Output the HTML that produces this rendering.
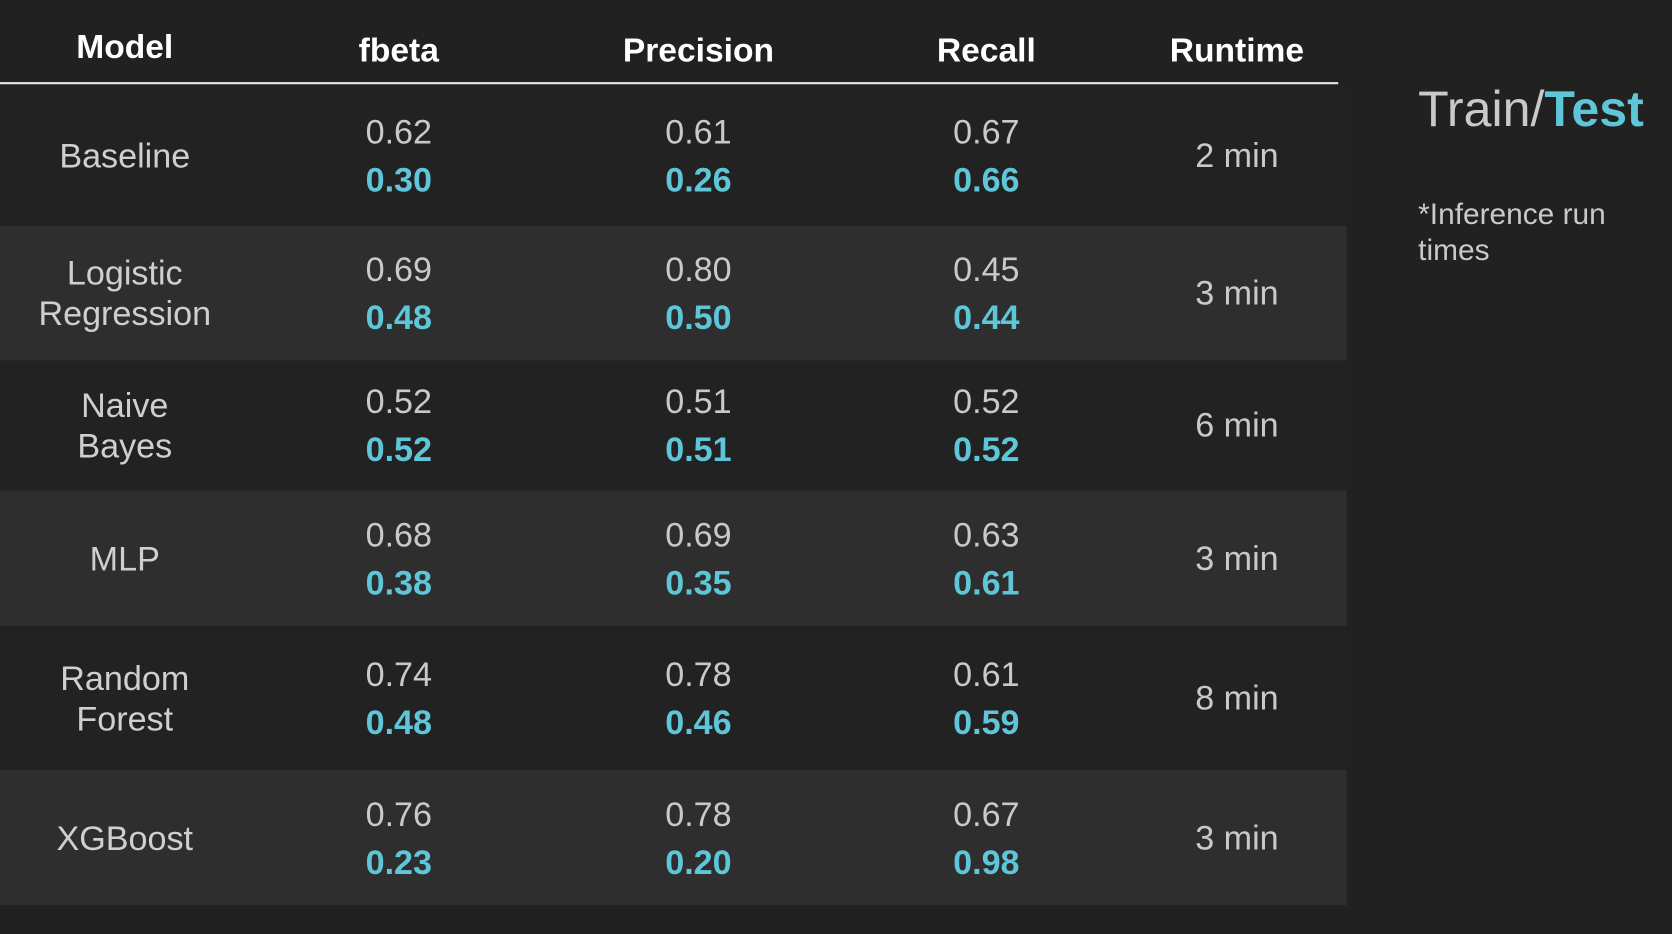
<!DOCTYPE html>
<html><head><meta charset="utf-8">
<style>
html,body{margin:0;padding:0;background:#212121;width:1672px;height:934px;overflow:hidden}
#wrap{position:absolute;left:0;top:0;width:1568px;height:876px;transform:scale(1.0663);transform-origin:0 0;font-family:"Liberation Sans",Arial,sans-serif}
.t{position:absolute;white-space:nowrap;transform:translate(-50%,-50%)}
.h{color:#fff;font-weight:bold;font-size:31.5px}
.tr{color:#c9c9c9;font-size:32px}
.te{color:#5ec6d8;font-size:32px;font-weight:bold}
.m{color:#cfcfcf;font-size:32px;text-align:center;line-height:38px}
.row{position:absolute;left:0;width:1263px}
</style></head><body>
<div id="wrap">
<div style="position:absolute;left:0;top:77px;width:1255px;height:2px;background:#e8e8e8"></div>
<div style="position:absolute;left:1330px;top:74px;font-size:47px;color:#c9c9c9">Train/<span style="color:#5ec6d8;font-weight:bold">Test</span></div>
<div style="position:absolute;left:1330px;top:184px;font-size:28px;color:#c9c9c9;line-height:34px">*Inference run<br>times</div>
</div>
<script>
const headers=["Model","fbeta","Precision","Recall","Runtime"];
const models=["Baseline","Logistic<br>Regression","Naive<br>Bayes","MLP","Random<br>Forest","XGBoost"];
const fbetaTrain=["0.62","0.69","0.52","0.68","0.74","0.76"];
const fbetaTest=["0.30","0.48","0.52","0.38","0.48","0.23"];
const precTrain=["0.61","0.80","0.51","0.69","0.78","0.78"];
const precTest=["0.26","0.50","0.51","0.35","0.46","0.20"];
const recTrain=["0.67","0.45","0.52","0.63","0.61","0.67"];
const recTest=["0.66","0.44","0.52","0.61","0.59","0.98"];
const runtimes=["2 min","3 min","6 min","3 min","8 min","3 min"];
const W=document.getElementById('wrap');
const colX=[117,374,655,925,1160];
const rowTop=[79,212,338,460,587,722,849];
function mk(cls,x,y,html){const d=document.createElement('div');d.className='t '+cls;d.style.left=x+'px';d.style.top=y+'px';d.innerHTML=html;W.appendChild(d);return d;}
headers.forEach((h,i)=>{const d=mk('h',colX[i],i==0?44:47,h);

});
models.forEach((m,r)=>{
 const top=rowTop[r],bot=rowTop[r+1],mid=(top+bot)/2;
 const bg=document.createElement('div');bg.className='row';bg.style.top=top+'px';bg.style.height=(bot-top)+'px';
 bg.style.background=r%2?'#2e2e2e':'#222222';W.insertBefore(bg,W.firstChild);
 
 
 let d=mk('m',colX[0],mid,m);
 
 
 const pairs=[[fbetaTrain,fbetaTest],[precTrain,precTest],[recTrain,recTest]];
 pairs.forEach((p,c)=>{
  let a=mk('tr',colX[c+1],mid-22,p[0][r]);
  
  
  let b=mk('te',colX[c+1],mid+23,p[1][r]);
  
  
 });
 d=mk('tr',colX[4],mid,runtimes[r]);
 
 
});
</script>
</body></html>
